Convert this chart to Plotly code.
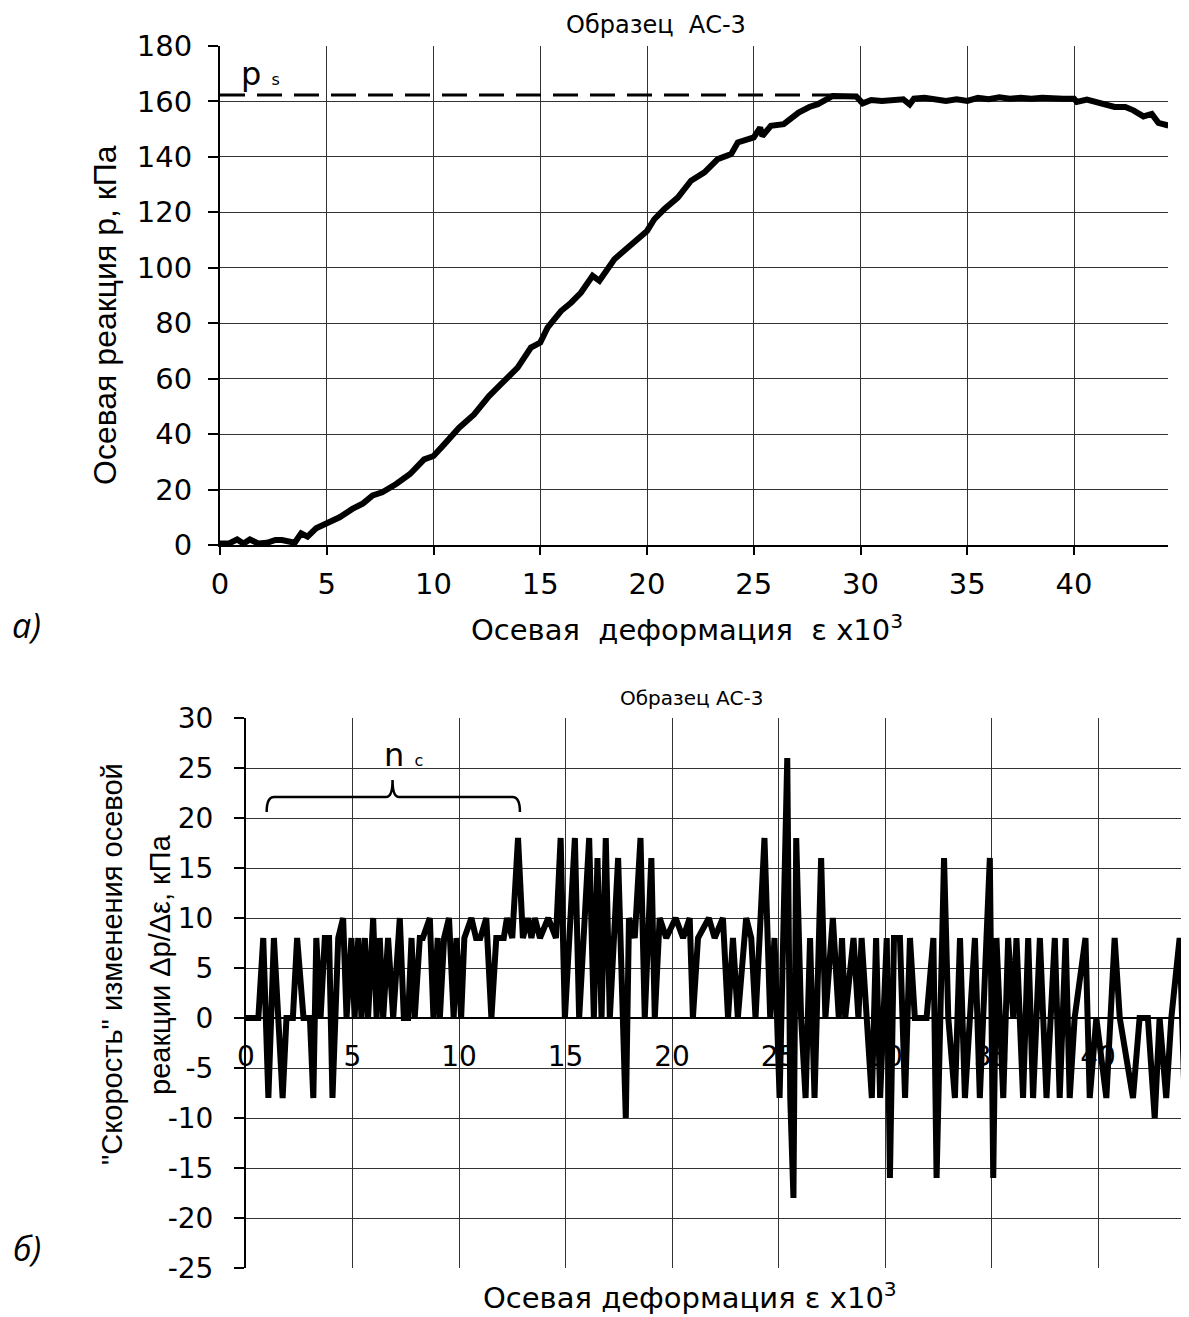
import plotly.graph_objects as go

# --- chart a): axial reaction vs axial strain ---
eps_p = [0.0, 0.4, 0.8, 1.1, 1.4, 1.8, 2.2, 2.6, 2.9, 3.2, 3.5, 3.8, 4.1, 4.5, 5.0,
         5.6, 6.2, 6.7, 7.15, 7.6, 8.25, 8.9, 9.56, 10.0, 10.5, 11.2, 11.9, 12.6,
         13.16, 13.94, 14.56, 15.0, 15.34, 15.97, 16.44, 16.9, 17.45, 17.77, 18.47,
         19.1, 20.0, 20.34, 20.8, 21.44, 22.06, 22.69, 23.31, 23.94, 24.25, 25.0,
         25.3, 25.4, 25.8, 26.4, 27.1, 27.6, 28.0, 28.7, 29.3, 29.8, 30.1, 30.5,
         31.0, 31.5, 32.0, 32.3, 32.5, 33.0, 33.5, 34.0, 34.5, 35.0, 35.5, 36.0,
         36.5, 37.0, 37.5, 38.0, 38.5, 39.0, 39.5, 40.0, 40.13, 40.6, 41.15, 41.9,
         42.4, 42.78, 43.25, 43.64, 43.95, 44.42]
p_kpa = [0.5, 0.5, 2.0, 0.5, 2.0, 0.5, 0.8, 1.8, 1.8, 1.2, 0.8, 4.2, 3.0, 6.0, 7.7,
         10.0, 13.0, 15.0, 17.9, 19.0, 22.0, 25.6, 30.9, 32.1, 36.3, 42.3, 47.1, 53.7,
         58.0, 64.0, 71.2, 73.0, 78.4, 84.4, 87.4, 91.0, 97.1, 95.3, 103.1,
         107.3, 113.3, 117.5, 121.1, 125.3, 131.4, 134.4, 139.2, 141.0, 145.2, 147.0,
         150.6, 147.5, 151.2, 151.8, 156.0, 158.0, 159.0, 162.0, 161.6, 161.8, 159.3, 160.5,
         160.2, 160.5, 160.8, 158.9, 161.0, 161.3, 160.6, 160.2, 160.8, 160.2, 161.3, 160.8,
         161.5, 161.0, 161.3, 161.0, 161.3, 161.0, 161.0, 161.0, 159.8, 160.7, 159.5, 158.0,
         158.0, 156.8, 154.6, 155.5, 152.3, 151.3]

ps_eps = [0.0, 29.0]
ps_val = [162.3, 162.3]

# --- chart б): "rate" of axial reaction change ---
eps_r = [0.0, 0.58, 0.81, 1.05, 1.31, 1.72, 1.9, 2.2, 2.4, 2.7, 3.0, 3.16, 3.3, 3.5,
         3.7, 3.9, 4.06, 4.33, 4.56, 4.72, 4.95, 5.1, 5.27, 5.42, 5.58, 5.73, 5.97,
         6.13, 6.28, 6.44, 6.67, 6.91, 7.22, 7.41, 7.61, 7.77, 7.92, 8.16, 8.3, 8.63,
         8.8, 9.0, 9.1, 9.3, 9.53, 9.75, 9.88, 10.1, 10.25, 10.58, 10.8, 11.0, 11.28,
         11.52, 11.75, 12.1, 12.25, 12.5, 12.77, 13.0, 13.23, 13.4, 13.56, 13.8, 14.19,
         14.55, 14.77, 14.97, 15.44, 15.64, 16.11, 16.33, 16.5, 16.69, 16.89, 17.08,
         17.47, 17.83, 17.98, 18.25, 18.52, 18.72, 19.03, 19.19, 19.42, 19.73, 20.17,
         20.52, 20.83, 20.98, 21.22, 21.73, 22.0, 22.39, 22.63, 22.86, 23.09, 23.48,
         23.72, 23.92, 24.11, 24.34, 24.61, 24.81, 25.05, 25.23, 25.41, 25.55, 25.7,
         25.83, 26.06, 26.27, 26.48, 26.69, 27.0, 27.2, 27.55, 27.83, 27.98, 28.13,
         28.52, 28.75, 28.9, 29.38, 29.58, 29.77, 30.08, 30.23, 30.42, 30.7, 30.94,
         31.17, 31.4, 31.95, 32.27, 32.42, 32.77, 32.97, 33.28, 33.52, 33.75, 34.22,
         34.45, 34.92, 35.08, 35.23, 35.55, 35.78, 36.02, 36.17, 36.48, 36.72, 36.95,
         37.27, 37.58, 37.97, 38.2, 38.48, 38.67, 38.9, 39.41, 39.61, 39.92, 40.39,
         40.78, 41.02, 41.64, 41.95, 42.34, 42.66, 42.89, 43.2, 43.44, 43.83, 44.06,
         44.25, 44.3]
rate = [0, 0, 8, -8, 8, -8, 0, 0, 8, 0, 0, -8, 8, 0,
        8, 8, -8, 8, 10, 0, 8, 0, 8, 0, 8, 0, 10,
        0, 8, 0, 8, 0, 10, 0, 0, 8, 0, 8, 8, 10,
        0, 8, 0, 8, 10, 0, 8, 0, 8, 10, 8, 8, 10,
        0, 8, 8, 10, 8, 18, 8, 10, 8, 10, 8, 10,
        8, 18, 0, 18, 0, 18, 0, 16, 0, 18, 0,
        16, -10, 10, 8, 18, 0, 16, 0, 10, 8, 10,
        8, 10, 0, 8, 10, 8, 10, 0, 8, 0, 10,
        8, 0, 8, 18, 0, 8, -8, 8, 26, -8, -18,
        18, 0, -8, 8, -8, 16, 0, 10, 0, 8, 0,
        8, 0, 8, -8, 8, -8, 8, -16, 8, 8, -8,
        8, 0, 0, 8, -16, 16, 0, -8, 8, -8, 8,
        -8, 16, -16, 8, -8, 8, 0, 8, -8, 8, -8,
        8, -8, 8, -8, 8, -8, 0, 8, -8, 0, -8,
        8, 0, -8, 0, 0, -10, 0, -8, 0, 8, -8,
        0, -8]

x_ticks = [0, 5, 10, 15, 20, 25, 30, 35, 40]
rate_ticks = [-25, -20, -15, -10, -5, 0, 5, 10, 15, 20, 25, 30]
rate_tick_text = ["-25", "-20", "-15", "-10", "-5", "0", "5", "10", "15", "20", "25", "30"]

# page body has an 8px margin, so the figure is drawn 8px in from the corner
OFF = 8
W, H = 1189 - OFF, 1317 - OFF
FONT = "DejaVu Sans, sans-serif"
FONT_V = "Liberation Sans, Arial, sans-serif"


def px(x):
    return (x - OFF) / W


def py(y):
    return 1 - (y - OFF) / H


fig = go.Figure()

fig.add_trace(go.Scatter(x=eps_p, y=p_kpa, mode="lines",
                         line=dict(color="black", width=6),
                         xaxis="x", yaxis="y", showlegend=False))
fig.add_trace(go.Scatter(x=ps_eps, y=ps_val, mode="lines",
                         line=dict(color="black", width=3, dash="25px,12px"),
                         xaxis="x", yaxis="y", showlegend=False))
fig.add_trace(go.Scatter(x=eps_r, y=rate, mode="lines",
                         line=dict(color="black", width=6),
                         xaxis="x2", yaxis="y2", showlegend=False))

grid = dict(showgrid=True, gridcolor="#333333", gridwidth=1, zeroline=False,
            showline=True, linecolor="black", linewidth=2, automargin=False)

top_y0, top_y1 = 545, 46
bot_y0, bot_y1 = 1268, 718

fig.update_layout(
    width=W, height=H,
    margin=dict(l=0, r=0, t=0, b=0, pad=0, autoexpand=False),
    paper_bgcolor="white", plot_bgcolor="white",
    xaxis=dict(domain=[px(220), px(1168)], range=[0, 44.4], tickvals=x_ticks,
               anchor="y", ticks="outside", ticklen=8, tickwidth=2,
               tickcolor="black", ticklabelstandoff=4,
               tickfont=dict(family=FONT, size=29, color="black"), **grid),
    yaxis=dict(domain=[py(top_y0), py(top_y1)], range=[0, 180], dtick=20,
               anchor="x", ticks="outside", ticklen=10, tickwidth=1.5,
               tickcolor="black", ticklabelstandoff=10,
               tickfont=dict(family=FONT, size=29, color="black"), **grid),
    xaxis2=dict(domain=[px(246), 1.0], range=[0, 44.27], tickvals=x_ticks,
                anchor="free",
                position=py(bot_y0) + 25 / 55 * (py(bot_y1) - py(bot_y0)),
                ticks="", ticklabelstandoff=13, layer="below traces",
                tickfont=dict(family=FONT, size=28, color="black"), **grid),
    yaxis2=dict(domain=[py(bot_y0), py(bot_y1)], range=[-25, 30],
                tickvals=rate_ticks, ticktext=rate_tick_text,
                anchor="x2", ticks="outside", ticklen=10, tickwidth=1.5,
                tickcolor="black", ticklabelstandoff=15,
                tickfont=dict(family=FONT, size=28, color="black"), **grid),
)


def note(text, x, y, size, angle=0, family=FONT, xanchor="center"):
    fig.add_annotation(text=text, x=px(x), y=py(y), xref="paper", yref="paper",
                       showarrow=False, textangle=angle, xanchor=xanchor,
                       yanchor="middle",
                       font=dict(family=family, size=size, color="black"))


note("Образец  АС-3", 656, 25, 24)
note("Осевая реакция р, кПа", 105, 315, 32, angle=-90, family=FONT_V)
note("Осевая  деформация  ε x10<sup>3</sup>", 687, 628, 29)
note("<i>а)</i>", 27, 625, 34, family="Open Sans")

note("Образец АС-3", 692, 698, 20)
note("\"Скорость\" изменения осевой", 112, 964, 29, angle=-90, family=FONT_V)
note("реакции Δр/Δε, кПа", 160, 964, 29, angle=-90, family=FONT_V)
note("Осевая деформация ε x10<sup>3</sup>", 690, 1296, 29)
note("<i>б)</i>", 27, 1248, 34, family="Open Sans")

# labels inside the plots
fig.add_annotation(text="р <span style='font-size:16px'>s</span>", x=0.9, y=170,
                   xref="x", yref="y", showarrow=False, xanchor="left",
                   font=dict(family=FONT, size=32, color="black"))
fig.add_annotation(text="n <span style='font-size:16px'>c</span>", x=6.4, y=26.3,
                   xref="x2", yref="y2", showarrow=False, xanchor="left",
                   font=dict(family=FONT, size=32, color="black"))

# curly brace over the n_c interval
bx0, bx1, bm, by, bt, bb = 0.97, 12.86, 6.88, 22.1, 23.8, 20.6
brace = (f"M {bx0},{bb} Q {bx0},{by} {bx0 + 0.35},{by} L {bm - 0.3},{by} "
         f"Q {bm},{by} {bm},{bt} Q {bm},{by} {bm + 0.3},{by} "
         f"L {bx1 - 0.35},{by} Q {bx1},{by} {bx1},{bb}")
fig.add_shape(type="path", path=brace, xref="x2", yref="y2",
              line=dict(color="black", width=2.5))

fig.write_html("out.html")
